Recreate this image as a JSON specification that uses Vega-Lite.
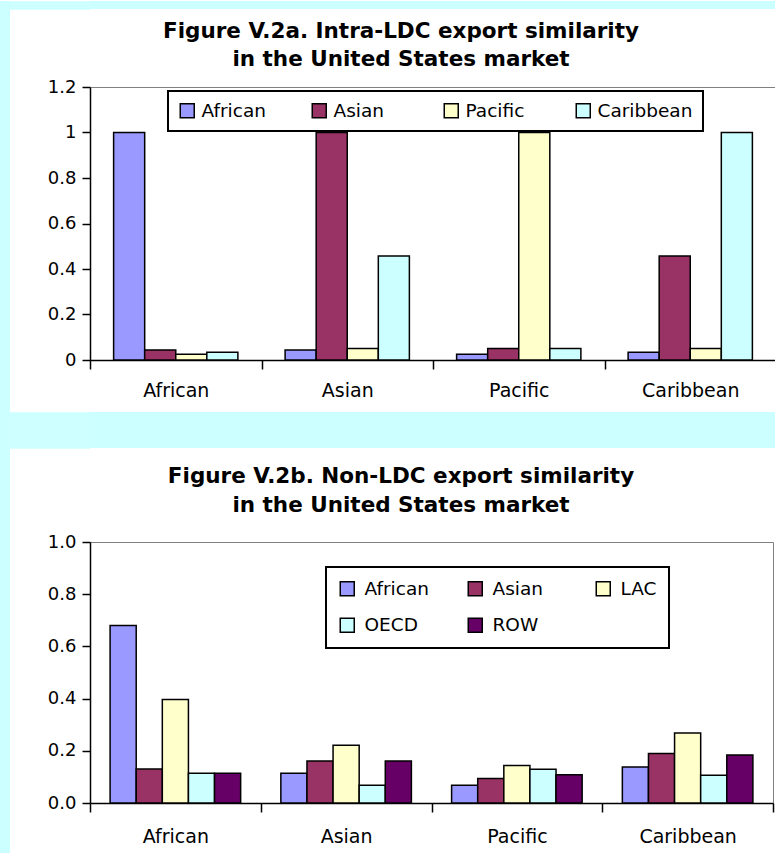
{
  "$schema": "https://vega.github.io/schema/vega-lite/v6.json",
  "background": "white",
  "padding": 0,
  "config": {"font": "DejaVu Sans", "view": {"stroke": null}},
  "datasets": {
    "intra": [
      {"market": "African", "series": "African", "value": 1.0},
      {"market": "African", "series": "Asian", "value": 0.044},
      {"market": "African", "series": "Pacific", "value": 0.025},
      {"market": "African", "series": "Caribbean", "value": 0.034},
      {"market": "Asian", "series": "African", "value": 0.044},
      {"market": "Asian", "series": "Asian", "value": 1.0},
      {"market": "Asian", "series": "Pacific", "value": 0.051},
      {"market": "Asian", "series": "Caribbean", "value": 0.457},
      {"market": "Pacific", "series": "African", "value": 0.025},
      {"market": "Pacific", "series": "Asian", "value": 0.051},
      {"market": "Pacific", "series": "Pacific", "value": 1.0},
      {"market": "Pacific", "series": "Caribbean", "value": 0.051},
      {"market": "Caribbean", "series": "African", "value": 0.034},
      {"market": "Caribbean", "series": "Asian", "value": 0.457},
      {"market": "Caribbean", "series": "Pacific", "value": 0.051},
      {"market": "Caribbean", "series": "Caribbean", "value": 1.0}
    ],
    "nonldc": [
      {"market": "African", "series": "African", "value": 0.68},
      {"market": "African", "series": "Asian", "value": 0.13},
      {"market": "African", "series": "LAC", "value": 0.397},
      {"market": "African", "series": "OECD", "value": 0.114},
      {"market": "African", "series": "ROW", "value": 0.114},
      {"market": "Asian", "series": "African", "value": 0.114},
      {"market": "Asian", "series": "Asian", "value": 0.161},
      {"market": "Asian", "series": "LAC", "value": 0.221},
      {"market": "Asian", "series": "OECD", "value": 0.068},
      {"market": "Asian", "series": "ROW", "value": 0.161},
      {"market": "Pacific", "series": "African", "value": 0.068},
      {"market": "Pacific", "series": "Asian", "value": 0.094},
      {"market": "Pacific", "series": "LAC", "value": 0.144},
      {"market": "Pacific", "series": "OECD", "value": 0.129},
      {"market": "Pacific", "series": "ROW", "value": 0.108},
      {"market": "Caribbean", "series": "African", "value": 0.138},
      {"market": "Caribbean", "series": "Asian", "value": 0.19},
      {"market": "Caribbean", "series": "LAC", "value": 0.268},
      {"market": "Caribbean", "series": "OECD", "value": 0.106},
      {"market": "Caribbean", "series": "ROW", "value": 0.184}
    ],
    "empty": []
  },
  "spacing": -3,
  "resolve": {
    "scale": {"color": "independent", "xOffset": "independent", "x": "independent", "y": "independent"},
    "legend": {"color": "independent"},
    "axis": {"x": "independent", "y": "independent"}
  },
  "hconcat": [
    {
      "width": 10, "height": 853,
      "data": {"name": "empty"},
      "mark": "rect",
      "encoding": {},
      "view": {"fill": "#CCFFFF", "stroke": null}
    },
    {
      "columns": 1,
      "spacing": 16,
      "resolve": {
        "scale": {"color": "independent", "xOffset": "independent", "x": "independent", "y": "independent"},
        "legend": {"color": "independent"},
        "axis": {"x": "independent", "y": "independent"}
      },
      "concat": [
        {
          "columns": 1,
          "spacing": 10,
          "resolve": {
            "scale": {"color": "independent", "xOffset": "independent", "x": "independent", "y": "independent"},
            "legend": {"color": "independent"},
            "axis": {"x": "independent", "y": "independent"}
          },
          "concat": [
            {
              "width": 686, "height": 8,
              "data": {"name": "empty"},
              "mark": "point",
              "encoding": {
                "y": {
                  "datum": 1, "type": "quantitative",
                  "scale": {"domain": [0, 8]},
                  "axis": {
                    "title": null, "domain": false, "labels": false, "grid": false,
                    "values": [1, 3, 5, 7],
                    "tickColor": "#CCFFFF", "tickWidth": 2.6, "tickSize": 81
                  }
                }
              },
              "view": {"fill": "#CCFFFF", "stroke": null}
            },
            {
              "width": 686, "height": 273,
              "data": {"name": "intra"},
              "view": {"fill": "white", "stroke": "#808080", "strokeWidth": 1},
              "title": {
                "text": ["Figure V.2a. Intra-LDC export similarity", "in the  United States market"],
                "font": "DejaVu Sans", "fontSize": 21.5, "fontWeight": "bold", "color": "black",
                "lineHeight": 28, "offset": 8, "anchor": "middle", "dx": -32
              },
              "mark": {"type": "bar", "stroke": "black", "strokeWidth": 1.5},
              "encoding": {
                "x": {
                  "field": "market", "type": "nominal",
                  "sort": ["African", "Asian", "Pacific", "Caribbean"],
                  "scale": {"paddingInner": 0, "paddingOuter": 0},
                  "axis": {
                    "title": null, "labelAngle": 0, "tickBand": "extent",
                    "domainColor": "black", "domainWidth": 1.5,
                    "tickColor": "black", "tickWidth": 1.5, "tickSize": 9,
                    "labelPadding": 12, "labelFontSize": 19, "labelColor": "black", "labelFont": "DejaVu Sans"
                  }
                },
                "xOffset": {
                  "field": "series", "type": "nominal",
                  "sort": ["African", "Asian", "Pacific", "Caribbean"],
                  "scale": {"paddingInner": 0, "paddingOuter": 0.76}
                },
                "y": {
                  "field": "value", "type": "quantitative",
                  "scale": {"domain": [0, 1.2], "nice": false},
                  "axis": {
                    "title": null, "grid": false,
                    "values": [0, 0.2, 0.4, 0.6, 0.8, 1, 1.2], "format": ".1~f",
                    "domainColor": "black", "domainWidth": 1.5,
                    "tickColor": "black", "tickWidth": 1.5, "tickSize": 8,
                    "labelPadding": 6, "labelFontSize": 18, "labelColor": "black", "labelFont": "DejaVu Sans"
                  }
                },
                "color": {
                  "field": "series", "type": "nominal",
                  "scale": {
                    "domain": ["African", "Asian", "Pacific", "Caribbean"],
                    "range": ["#9999FF", "#993366", "#FFFFCC", "#CCFFFF"]
                  },
                  "legend": {
                    "title": null, "orient": "none", "legendX": 78, "legendY": 4,
                    "direction": "horizontal", "columns": 4, "gridAlign": "all",
                    "padding": 10, "columnPadding": 12,
                    "strokeColor": "black", "fillColor": "white",
                    "symbolType": "square", "symbolSize": 196,
                    "symbolStrokeColor": "black", "symbolStrokeWidth": 1.5, "symbolOpacity": 1,
                    "labelFontSize": 18.5, "labelOffset": 5, "labelColor": "black", "labelFont": "DejaVu Sans",
                    "encode": {"legend": {"update": {"strokeWidth": {"value": 2}}}}
                  }
                }
              }
            },
            {
              "width": 686, "height": 36,
              "data": {"name": "empty"},
              "mark": "point",
              "encoding": {
                "y": {
                  "datum": 1, "type": "quantitative",
                  "scale": {"domain": [0, 36]},
                  "axis": {
                    "title": null, "domain": false, "labels": false, "grid": false,
                    "values": [1, 3, 5, 7, 9, 11, 13, 15, 17, 19, 21, 23, 25, 27, 29, 31, 33, 35],
                    "tickColor": "#CCFFFF", "tickWidth": 2.6, "tickSize": 81
                  }
                }
              },
              "view": {"fill": "#CCFFFF", "stroke": null}
            }
          ]
        },
        {
          "width": 683, "height": 261,
          "data": {"name": "nonldc"},
          "view": {"fill": "white", "stroke": "#808080", "strokeWidth": 1},
          "title": {
            "text": ["Figure V.2b. Non-LDC export similarity", "in the United States market"],
            "font": "DejaVu Sans", "fontSize": 21.5, "fontWeight": "bold", "color": "black",
            "lineHeight": 29, "offset": 17, "anchor": "middle", "dx": -30.5
          },
          "mark": {"type": "bar", "stroke": "black", "strokeWidth": 1.5},
          "encoding": {
            "x": {
              "field": "market", "type": "nominal",
              "sort": ["African", "Asian", "Pacific", "Caribbean"],
              "scale": {"paddingInner": 0, "paddingOuter": 0},
              "axis": {
                "title": null, "labelAngle": 0, "tickBand": "extent",
                "domainColor": "black", "domainWidth": 1.5,
                "tickColor": "black", "tickWidth": 1.5, "tickSize": 9,
                "labelPadding": 15, "labelFontSize": 19, "labelColor": "black", "labelFont": "DejaVu Sans"
              }
            },
            "xOffset": {
              "field": "series", "type": "nominal",
              "sort": ["African", "Asian", "LAC", "OECD", "ROW"],
              "scale": {"paddingInner": 0, "paddingOuter": 0.77}
            },
            "y": {
              "field": "value", "type": "quantitative",
              "scale": {"domain": [0, 1], "nice": false},
              "axis": {
                "title": null, "grid": false,
                "values": [0, 0.2, 0.4, 0.6, 0.8, 1], "format": ".1f",
                "domainColor": "black", "domainWidth": 1.5,
                "tickColor": "black", "tickWidth": 1.5, "tickSize": 8,
                "labelPadding": 6, "labelFontSize": 18, "labelColor": "black", "labelFont": "DejaVu Sans",
                "minExtent": 60
              }
            },
            "color": {
              "field": "series", "type": "nominal",
              "scale": {
                "domain": ["African", "Asian", "LAC", "OECD", "ROW"],
                "range": ["#9999FF", "#993366", "#FFFFCC", "#CCFFFF", "#660066"]
              },
              "legend": {
                "title": null, "orient": "none", "legendX": 236, "legendY": 25,
                "direction": "horizontal", "columns": 3, "gridAlign": "all",
                "padding": 12, "columnPadding": 36, "rowPadding": 16,
                "strokeColor": "black", "fillColor": "white",
                "symbolType": "square", "symbolSize": 196,
                "symbolStrokeColor": "black", "symbolStrokeWidth": 1.5, "symbolOpacity": 1,
                "labelFontSize": 18.5, "labelOffset": 8, "labelColor": "black", "labelFont": "DejaVu Sans",
                "encode": {"legend": {"update": {"strokeWidth": {"value": 2}}}}
              }
            }
          }
        }
      ]
    }
  ]
}
